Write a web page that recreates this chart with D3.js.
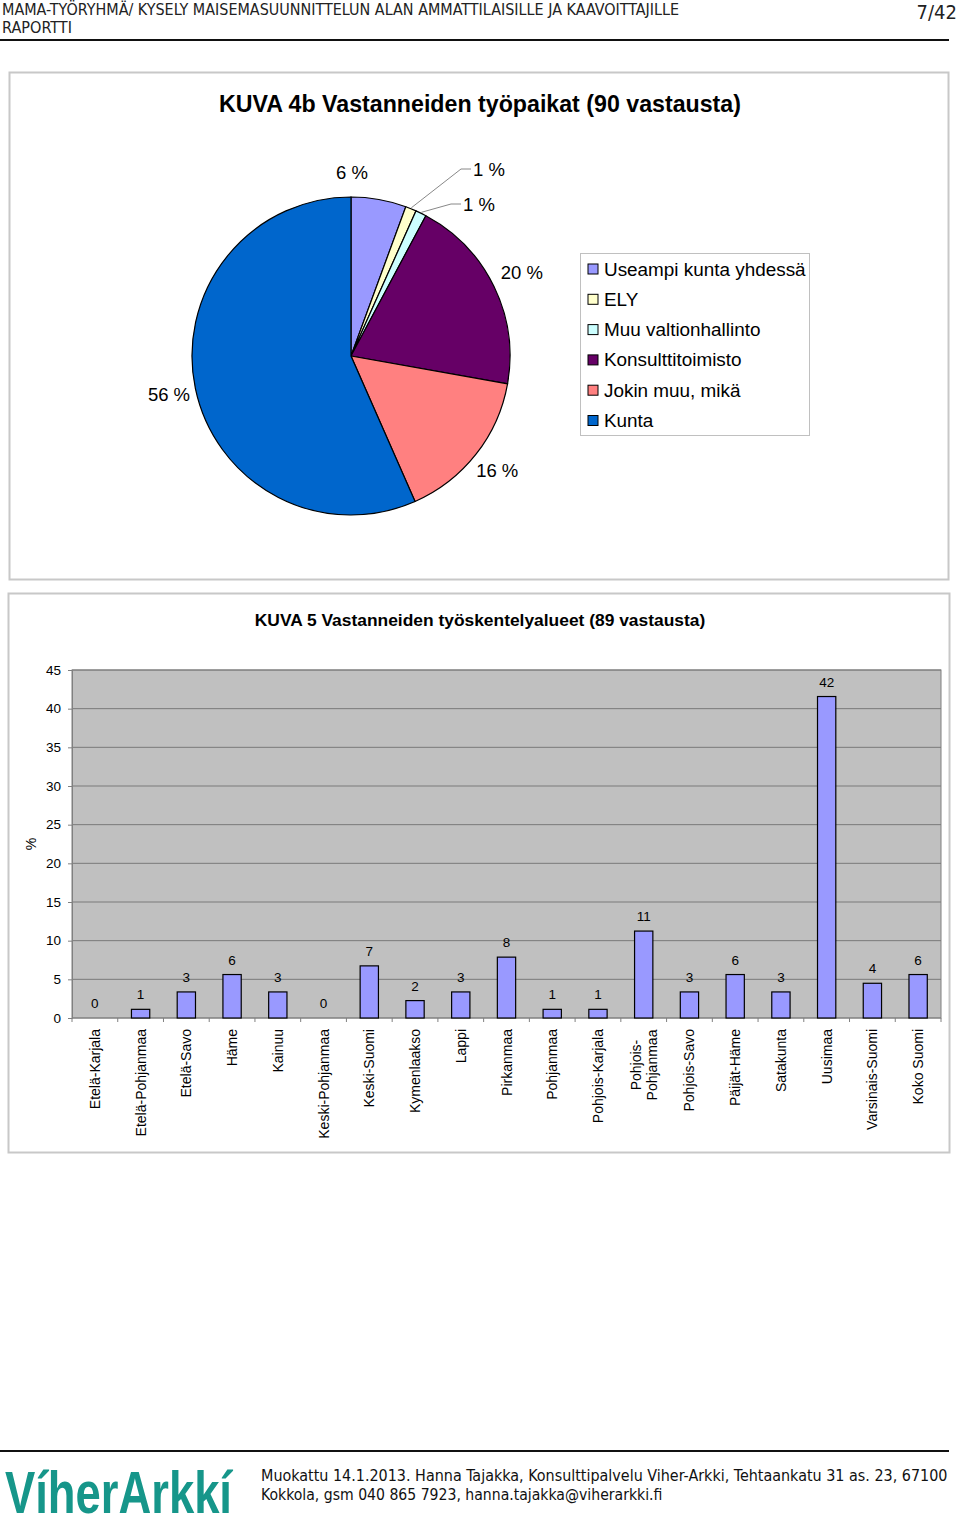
<!DOCTYPE html>
<html>
<head>
<meta charset="utf-8">
<script src="https://cdn.jsdelivr.net/npm/d3@7"></script>
<style>
  body { margin: 0; background: #fff; }
  svg text { font-family: "Liberation Sans", Arial, sans-serif; }
  .cond { font-family: "DejaVu Sans Condensed", "DejaVu Sans", sans-serif !important; }
</style>
</head>
<body>
<div id="page"></div>
<script>
// pie data (KUVA 4b)
var pieLabels = ["Useampi kunta yhdessä", "ELY", "Muu valtionhallinto", "Konsulttitoimisto", "Jokin muu, mikä", "Kunta"];
var pieValues = [5.6, 1.1, 1.1, 20.0, 15.6, 56.6];
var pieText = ["6 %", "1 %", "1 %", "20 %", "16 %", "56 %"];
var pieColors = ["#9999ff", "#ffffcc", "#ccffff", "#660066", "#ff8080", "#0066cc"];

// bar data (KUVA 5)
var regions = ["Etelä-Karjala", "Etelä-Pohjanmaa", "Etelä-Savo", "Häme", "Kainuu", "Keski-Pohjanmaa",
    "Keski-Suomi", "Kymenlaakso", "Lappi", "Pirkanmaa", "Pohjanmaa", "Pohjois-Karjala",
    "Pohjois-Pohjanmaa", "Pohjois-Savo", "Päijät-Häme", "Satakunta", "Uusimaa", "Varsinais-Suomi", "Koko Suomi"];
var shares = [0, 1.12, 3.37, 5.62, 3.37, 0, 6.74, 2.25, 3.37, 7.87, 1.12, 1.12, 11.24, 3.37, 5.62, 3.37, 41.57, 4.49, 5.62];
var yTicks = [0, 5, 10, 15, 20, 25, 30, 35, 40, 45];

function init() {
    var w = 960, h = 1524;
    var svg = d3.select("#page").append("svg")
        .attr("width", w)
        .attr("height", h);

    // squeeze a text horizontally to a given width
    function fitWidth(sel, x0, y0, target) {
        var nat = sel.node().getComputedTextLength();
        sel.attr("transform", "translate(" + x0 + "," + y0 + ") scale(" + (target / nat) + ",1)");
    }

    // page header
    var h1 = svg.append("text").attr("class", "cond")
        .style("font-size", "16px").style("fill", "#222")
        .text("MAMA-TYÖRYHMÄ/ KYSELY MAISEMASUUNNITTELUN ALAN AMMATTILAISILLE JA KAAVOITTAJILLE");
    fitWidth(h1, 2, 15, 678);
    var h2 = svg.append("text").attr("class", "cond")
        .style("font-size", "16px").style("fill", "#222")
        .text("RAPORTTI");
    fitWidth(h2, 2, 33, 70);
    svg.append("text").attr("class", "cond")
        .attr("x", 957).attr("y", 19)
        .attr("text-anchor", "end")
        .style("font-size", "20px").style("fill", "#222")
        .text("7/42");
    svg.append("line")
        .attr("x1", 0).attr("x2", 949).attr("y1", 40).attr("y2", 40)
        .style("stroke", "#111").style("stroke-width", 2);

    // ---------- pie chart ----------
    svg.append("rect")
        .attr("x", 9.5).attr("y", 72.5).attr("width", 939).attr("height", 507)
        .style("fill", "#fff").style("stroke", "#c8c8c8").style("stroke-width", 2);
    svg.append("text")
        .attr("x", 480).attr("y", 112)
        .attr("text-anchor", "middle")
        .style("font-size", "23.2px").style("font-weight", "bold")
        .text("KUVA 4b Vastanneiden työpaikat (90 vastausta)");

    var cx = 351, cy = 356, r = 159;
    var pie = d3.pie().sort(null).value(function (d) { return d; });
    var arcs = pie(pieValues);
    var arc = d3.arc().innerRadius(0).outerRadius(r);
    var g = svg.append("g").attr("transform", "translate(" + cx + "," + cy + ")");
    g.selectAll("path")
        .data(arcs)
        .enter()
        .append("path")
        .attr("d", arc)
        .style("fill", function (d, i) { return pieColors[i]; })
        .style("stroke", "#000")
        .style("stroke-width", 1.2);

    // slice labels; the first one sits straight above the pie
    var labelAngle = [0.005, null, null, null, null, null];
    var labelR = [184, 0, 0, 190, 186, 186];
    arcs.forEach(function (d, i) {
        var a = labelAngle[i] != null ? labelAngle[i] : (d.startAngle + d.endAngle) / 2;
        if (i == 1 || i == 2) {
            var ex = Math.sin(a) * (r + 1), ey = -Math.cos(a) * (r + 1);
            var lx = i == 1 ? 114 : 104, ly = i == 1 ? -187 : -152;
            g.append("polyline")
                .attr("points", [ex, ey, lx - 4, ly, lx + 6, ly].join(","))
                .style("fill", "none").style("stroke", "#888").style("stroke-width", 1);
            g.append("text").attr("x", lx + 8).attr("y", ly + 6.5)
                .style("font-size", "18.5px")
                .text(pieText[i]);
            return;
        }
        g.append("text")
            .attr("x", Math.sin(a) * labelR[i])
            .attr("y", -Math.cos(a) * labelR[i] + 6.5)
            .attr("text-anchor", "middle")
            .style("font-size", "18.5px")
            .text(pieText[i]);
    });

    // legend
    var leg = svg.append("g").attr("transform", "translate(580,253)");
    leg.append("rect").attr("x", 0.5).attr("y", 0.5).attr("width", 229).attr("height", 182)
        .style("fill", "#fff").style("stroke", "#c0c0c0");
    var items = leg.selectAll("g.item")
        .data(pieLabels)
        .enter()
        .append("g")
        .attr("transform", function (d, i) { return "translate(0," + (16 + i * 30.3) + ")"; });
    items.append("rect")
        .attr("x", 8).attr("y", -5).attr("width", 10).attr("height", 10)
        .style("fill", function (d, i) { return pieColors[i]; })
        .style("stroke", "#000");
    items.append("text")
        .attr("x", 24).attr("y", 6.5)
        .style("font-size", "18.9px")
        .text(function (d) { return d; });

    // ---------- bar chart ----------
    svg.append("rect")
        .attr("x", 8.5).attr("y", 593.5).attr("width", 941).attr("height", 559)
        .style("fill", "#fff").style("stroke", "#c8c8c8").style("stroke-width", 2);
    svg.append("text")
        .attr("x", 480).attr("y", 626)
        .attr("text-anchor", "middle")
        .style("font-size", "17.4px").style("font-weight", "bold")
        .text("KUVA 5 Vastanneiden työskentelyalueet (89 vastausta)");

    var left = 72, right = 941, top = 670, bottom = 1018;
    var x = d3.scaleBand().domain(regions).range([left, right]).paddingInner(0.6).paddingOuter(0.3);
    var y = d3.scaleLinear().domain([0, 45]).range([bottom, top]);

    svg.append("rect")
        .attr("x", left).attr("y", top).attr("width", right - left).attr("height", bottom - top)
        .style("fill", "#c0c0c0").style("stroke", "#808080");

    svg.append("g")
        .selectAll("line")
        .data(yTicks.slice(1))
        .enter()
        .append("line")
        .attr("x1", left).attr("x2", right)
        .attr("y1", function (d) { return y(d); })
        .attr("y2", function (d) { return y(d); })
        .style("stroke", "#7a7a7a").style("stroke-width", 1);

    var yAxis = svg.append("g")
        .attr("transform", "translate(" + left + ",0)")
        .call(d3.axisLeft(y).tickValues(yTicks).tickSize(4).tickPadding(7));
    yAxis.select(".domain").style("stroke", "#808080");
    yAxis.selectAll(".tick line").style("stroke", "#808080");
    yAxis.selectAll("text").style("font-size", "13.5px").style("font-family", "Liberation Sans, Arial, sans-serif").style("fill", "#000");

    svg.append("text")
        .attr("transform", "translate(36,844) rotate(-90)")
        .attr("text-anchor", "middle")
        .style("font-size", "14px")
        .text("%");

    // category ticks
    var edges = d3.range(regions.length + 1).map(function (i) { return left + i * (right - left) / regions.length; });
    svg.append("g").selectAll("line")
        .data(edges)
        .enter()
        .append("line")
        .attr("x1", function (d) { return d; }).attr("x2", function (d) { return d; })
        .attr("y1", bottom).attr("y2", bottom + 4)
        .style("stroke", "#808080");
    svg.append("line")
        .attr("x1", left).attr("x2", right).attr("y1", bottom).attr("y2", bottom)
        .style("stroke", "#808080");

    svg.append("g").selectAll("rect")
        .data(shares)
        .enter()
        .append("rect")
        .attr("x", function (d, i) { return x(regions[i]); })
        .attr("y", function (d) { return y(d); })
        .attr("width", x.bandwidth())
        .attr("height", function (d) { return bottom - y(d); })
        .style("fill", function (d) { return d > 0 ? "#9999ff" : "none"; })
        .style("stroke", function (d) { return d > 0 ? "#000" : "none"; })
        .style("stroke-width", 1.2);

    svg.append("g").selectAll("text")
        .data(shares)
        .enter()
        .append("text")
        .attr("x", function (d, i) { return x(regions[i]) + x.bandwidth() / 2; })
        .attr("y", function (d) { return y(d) - 10; })
        .attr("text-anchor", "middle")
        .style("font-size", "13.5px")
        .text(function (d) { return d3.format(".0f")(d); });

    // rotated category labels
    var lab = svg.append("g").selectAll("text")
        .data(regions)
        .enter()
        .append("text")
        .attr("transform", function (d) {
            var cxl = x(d) + x.bandwidth() / 2;
            return "translate(" + (cxl + 5) + "," + (bottom + 11) + ") rotate(-90)";
        })
        .attr("text-anchor", "end")
        .style("font-size", "14px");
    lab.each(function (d) {
        var t = d3.select(this);
        if (d == "Pohjois-Pohjanmaa") {
            t.attr("text-anchor", "middle");
            t.attr("transform", "translate(" + (x(d) + x.bandwidth() / 2) + "," + (bottom + 47) + ") rotate(-90)");
            t.append("tspan").attr("x", 0).attr("dy", "-0.2em").text("Pohjois-");
            t.append("tspan").attr("x", 0).attr("dy", "1.15em").text("Pohjanmaa");
        } else {
            t.text(d);
        }
    });

    // ---------- footer ----------
    svg.append("line")
        .attr("x1", 0).attr("x2", 949).attr("y1", 1451).attr("y2", 1451)
        .style("stroke", "#111").style("stroke-width", 2);
    var logo = svg.append("text")
        .style("font-family", "'Liberation Sans Narrow', 'Liberation Sans', sans-serif")
        .style("font-size", "59px").style("font-weight", "bold")
        .style("fill", "#16968a")
        .text("VíherArkkí");
    fitWidth(logo, 5, 1513, 227);
    var f1 = svg.append("text").attr("class", "cond")
        .style("font-size", "16px").style("fill", "#111")
        .text("Muokattu 14.1.2013. Hanna Tajakka, Konsulttipalvelu Viher-Arkki, Tehtaankatu 31 as. 23, 67100");
    fitWidth(f1, 261, 1481, 687);
    var f2 = svg.append("text").attr("class", "cond")
        .style("font-size", "16px").style("fill", "#111")
        .text("Kokkola, gsm 040 865 7923, hanna.tajakka@viherarkki.fi");
    fitWidth(f2, 261, 1500, 402);
}

window.onload = init;
</script>
</body>
</html>
